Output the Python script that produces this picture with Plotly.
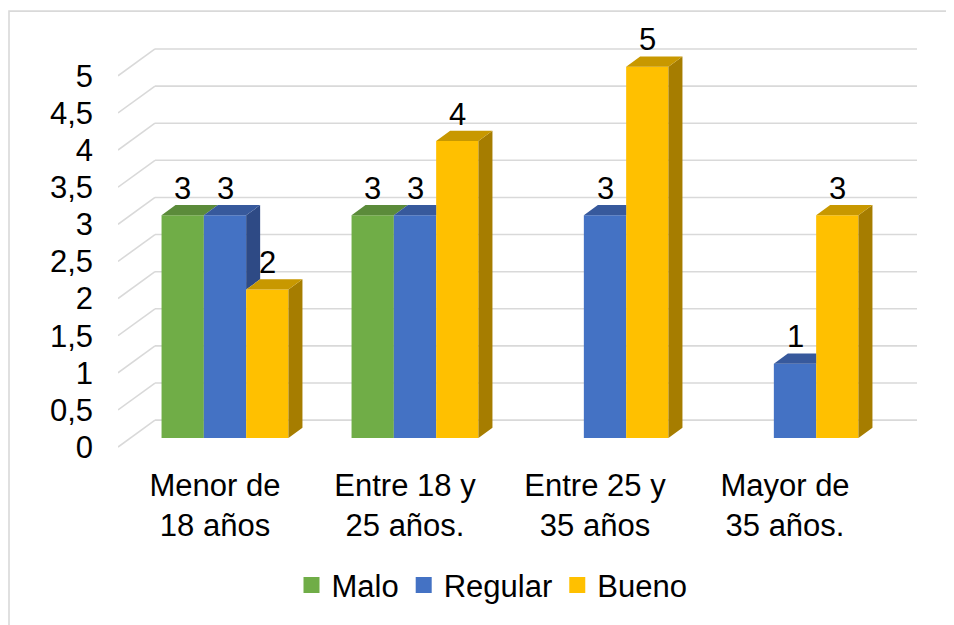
import plotly.graph_objects as go

# ---------------- data ----------------
categories = ["Menor de<br>18 años", "Entre 18 y<br>25 años.", "Entre 25 y<br>35 años", "Mayor de<br>35 años."]
series_names = ["Malo", "Regular", "Bueno"]
malo = [3, 3, None, None]
regular = [3, 3, 3, 1]
bueno = [2, 4, 5, 3]
y_tick_values = [0, 0.5, 1, 1.5, 2, 2.5, 3, 3.5, 4, 4.5, 5]
y_tick_labels = ["0", "0,5", "1", "1,5", "2", "2,5", "3", "3,5", "4", "4,5", "5"]

# ---------------- style ----------------
front_colors = ["#70AD47", "#4472C4", "#FFC000"]
top_colors = ["#5B8B3A", "#37599C", "#C89800"]
side_colors = ["#4C7831", "#2E4A85", "#A67D00"]
GRID = "#D9D9D9"
FONT = "Liberation Sans, Arial, sans-serif"
FS = 31

OFF = 8                                  # page body margin
W, H = 954 - OFF, 625 - OFF
L, R, T, B = 118 - OFF, 917 - OFF, 40 - OFF, 455 - OFF   # plot area in px
PX_X, X0PX = 190.0, 225.0 - OFF         # px per category, px of first category
PX_Y, Y0PX = 74.6, 440.0 - OFF          # px per unit, px of value 0 (bar front plane)
xr0, xr1 = (L - X0PX) / PX_X, (R - X0PX) / PX_X
yr0, yr1 = (Y0PX - B) / PX_Y, (Y0PX - T) / PX_Y
BAR_W = 42.3 / PX_X
DX, DY = 14.0 / PX_X, 10.3 / PX_Y       # bar depth
WALL_BACK_X = (155 - OFF - X0PX) / PX_X
WALL_BACK_DY = 18.0 / PX_Y
WALL_FRONT_DY = -9.0 / PX_Y

values = [malo, regular, bueno]
n = len(categories)

fig = go.Figure()

# back wall gridlines (below bars)
for v in y_tick_values:
    fig.add_shape(type="line", xref="x", yref="y", x0=xr0, y0=v + WALL_FRONT_DY,
                  x1=WALL_BACK_X, y1=v + WALL_BACK_DY, line=dict(color=GRID, width=1.6), layer="below")
    fig.add_shape(type="line", xref="x", yref="y", x0=WALL_BACK_X, y0=v + WALL_BACK_DY,
                  x1=xr1, y1=v + WALL_BACK_DY, line=dict(color=GRID, width=1.6), layer="below")

# front faces
for j, vals in enumerate(values):
    fig.add_trace(go.Bar(x=list(range(n)), y=vals, width=BAR_W, offset=(j - 1.5) * BAR_W,
                         marker=dict(color=front_colors[j], line=dict(width=0)),
                         showlegend=False, hoverinfo="skip"))

# top and side faces (visible parts)
for j, vals in enumerate(values):
    tx, ty, sx, sy = [], [], [], []
    for i, v in enumerate(vals):
        if v is None:
            continue
        xl = i + (j - 1.5) * BAR_W
        xr = xl + BAR_W
        nxt = values[j + 1][i] if j + 1 < len(values) else None
        if nxt is not None and nxt > v:
            h = min(nxt, v + DY)
            xs = xr + (h - v) / DY * DX
            poly = [(xl, v), (xr, v), (xr, h), (xs, h), (xr + DX, v + DY), (xl + DX, v + DY)]
        else:
            poly = [(xl, v), (xr, v), (xr + DX, v + DY), (xl + DX, v + DY)]
        for px, py in poly:
            tx.append(px); ty.append(py)
        tx.append(None); ty.append(None)
        base = 0 if nxt is None else min(max(nxt, 0), v)
        if v > base:
            for px, py in [(xr, base), (xr, v), (xr + DX, v + DY), (xr + DX, base + DY)]:
                sx.append(px); sy.append(py)
            sx.append(None); sy.append(None)
    fig.add_trace(go.Scatter(x=sx, y=sy, mode="lines", line=dict(width=0), fill="toself",
                             fillcolor=side_colors[j], showlegend=False, hoverinfo="skip"))
    fig.add_trace(go.Scatter(x=tx, y=ty, mode="lines", line=dict(width=0), fill="toself",
                             fillcolor=top_colors[j], showlegend=False, hoverinfo="skip"))

# data labels
for j, vals in enumerate(values):
    for i, v in enumerate(vals):
        if v is None:
            continue
        fig.add_annotation(x=i + (j - 1) * BAR_W, y=v, text=str(v), showarrow=False,
                           yanchor="middle", yshift=27, font=dict(family=FONT, size=FS, color="#000000"))

# legend entries
for j, name in enumerate(series_names):
    fig.add_trace(go.Scatter(x=[None], y=[None], mode="markers", name=name,
                             marker=dict(symbol="square", size=18, color=front_colors[j])))

# outer border
fig.add_shape(type="rect", xref="paper", yref="paper",
              x0=(9 - OFF - L) / (R - L), x1=(980 - L) / (R - L),
              y0=(B - 650) / (B - T), y1=(B - (11 - OFF)) / (B - T),
              line=dict(color=GRID, width=1.6), layer="below")

fig.update_layout(
    width=W, height=H, autosize=False,
    margin=dict(l=L, r=W - R, t=T, b=H - B, pad=0),
    plot_bgcolor="white", paper_bgcolor="white",
    font=dict(family=FONT, size=FS, color="#000000"),
    barmode="overlay",
    showlegend=True,
    legend=dict(orientation="h", x=(492 - OFF - L) / (R - L), xanchor="center",
                y=(B - (588 - OFF)) / (B - T), yanchor="middle", font=dict(size=FS),
                bgcolor="rgba(0,0,0,0)"),
    xaxis=dict(range=[xr0, xr1], showgrid=False, zeroline=False, showline=False,
               tickmode="array", tickvals=list(range(n)), ticktext=categories,
               ticks="", ticklabelshift=-10, ticklabelstandoff=11, fixedrange=True),
    yaxis=dict(range=[yr0, yr1], showgrid=False, zeroline=False, showline=False,
               tickmode="array", tickvals=[v + WALL_FRONT_DY for v in y_tick_values],
               ticktext=y_tick_labels, ticks="", ticklabelstandoff=24, fixedrange=True),
)

fig.write_html("out.html")
